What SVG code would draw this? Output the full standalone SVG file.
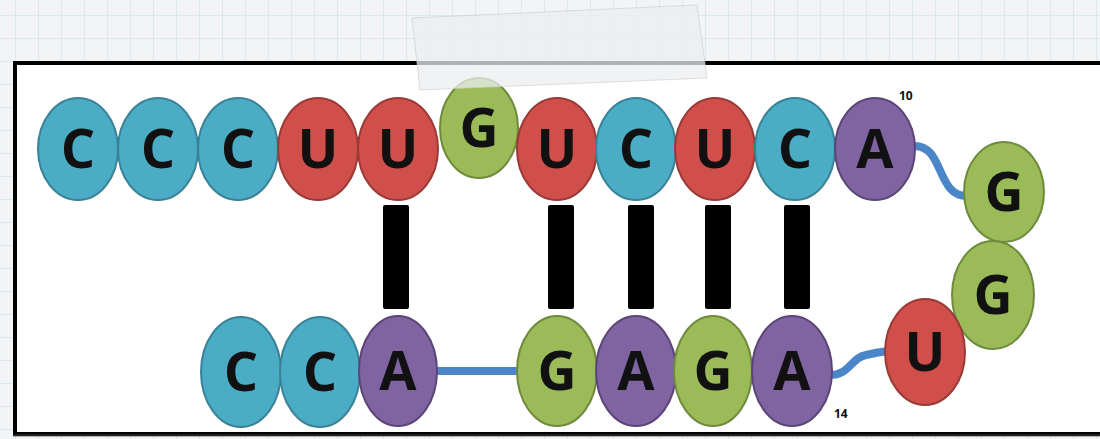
<svg xmlns="http://www.w3.org/2000/svg" width="1100" height="439" viewBox="0 0 1100 439">
<defs>
<pattern id="grid" x="15" y="15" width="23" height="23" patternUnits="userSpaceOnUse">
<path d="M0,0 H23 M0,0 V23" stroke="#d3e6ee" stroke-width="1.5" fill="none"/>
</pattern>
<style>
.b{fill:#4bacc6;stroke:#3a8296;stroke-width:2}
.r{fill:#d04f4a;stroke:#9a3a36;stroke-width:2}
.g{fill:#9bbb59;stroke:#6f8a3c;stroke-width:2}
.p{fill:#8064a2;stroke:#5b4578;stroke-width:2}
.t{font-family:"Open Sans","Liberation Sans",sans-serif;font-weight:700;font-size:54px;fill:#111;text-anchor:middle}
.n{font-family:"Open Sans","Liberation Sans",sans-serif;font-weight:700;font-size:12px;fill:#111}
.bar{fill:#000}
.lnk{fill:none;stroke:#4a86c8;stroke-width:8;stroke-linecap:round}
</style>
</defs>
<rect width="1100" height="439" fill="#f3f4f5"/>
<rect width="1100" height="439" fill="url(#grid)"/>
<rect x="15" y="63" width="1090" height="371" fill="#ffffff" stroke="#000" stroke-width="4"/>
<rect x="13" y="434" width="1090" height="3" fill="#555" opacity="0.4"/>

<g id="connectors">
<rect class="bar" x="383" y="205" width="26" height="104" rx="2"/>
<rect class="bar" x="548" y="205" width="26" height="104" rx="2"/>
<rect class="bar" x="628" y="205" width="26" height="104" rx="2"/>
<rect class="bar" x="705" y="205" width="26" height="104" rx="2"/>
<rect class="bar" x="784" y="205" width="26" height="104" rx="2"/>
<path class="lnk" d="M435,371 H520"/>
<path class="lnk" d="M912,146 C945,143 935,197 968,196"/>
<path class="lnk" d="M828,375 C850,376 850,358 866,355 C874,353 880,352 888,351"/>
</g>

<g id="n1"><ellipse class="b" cx="78" cy="149" rx="40" ry="51"/><text class="t" x="78" y="168">C</text></g>
<g id="n2"><ellipse class="b" cx="158" cy="149" rx="40" ry="51"/><text class="t" x="158" y="168">C</text></g>
<g id="n3"><ellipse class="b" cx="238" cy="149" rx="40" ry="51"/><text class="t" x="238" y="168">C</text></g>
<g id="n4"><ellipse class="r" cx="318" cy="149" rx="40" ry="51"/><text class="t" x="318" y="168">U</text></g>
<g id="n5"><ellipse class="r" cx="398" cy="149" rx="40" ry="51"/><text class="t" x="398" y="168">U</text></g>
<g id="n6"><ellipse class="g" cx="479" cy="128" rx="39" ry="50"/><text class="t" x="479" y="147">G</text></g>
<g id="n7"><ellipse class="r" cx="557" cy="149" rx="40" ry="51"/><text class="t" x="557" y="168">U</text></g>
<g id="n8"><ellipse class="b" cx="636" cy="149" rx="40" ry="51"/><text class="t" x="636" y="168">C</text></g>
<g id="n9"><ellipse class="r" cx="715" cy="149" rx="40" ry="51"/><text class="t" x="715" y="168">U</text></g>
<g id="n10"><ellipse class="b" cx="795" cy="149" rx="40" ry="51"/><text class="t" x="795" y="168">C</text></g>
<g id="n11"><ellipse class="p" cx="875" cy="149" rx="40" ry="51"/><text class="t" x="875" y="168">A</text><text class="n" x="899" y="100">10</text></g>
<g id="n12"><ellipse class="g" cx="1004" cy="192" rx="40" ry="50"/><text class="t" x="1004" y="211">G</text></g>
<g id="n13"><ellipse class="g" cx="993" cy="295" rx="41" ry="54"/><text class="t" x="993" y="314">G</text></g>
<g id="n14"><ellipse class="r" cx="925" cy="352" rx="40" ry="53"/><text class="t" x="925" y="371">U</text></g>

<g id="m1"><ellipse class="b" cx="241" cy="372" rx="40" ry="55"/><text class="t" x="241" y="391">C</text></g>
<g id="m2"><ellipse class="b" cx="320" cy="372" rx="40" ry="55"/><text class="t" x="320" y="391">C</text></g>
<g id="m3"><ellipse class="p" cx="398" cy="371" rx="39" ry="55"/><text class="t" x="398" y="390">A</text></g>
<g id="m4"><ellipse class="g" cx="557" cy="371" rx="40" ry="55"/><text class="t" x="557" y="390">G</text></g>
<g id="m5"><ellipse class="p" cx="636" cy="371" rx="40" ry="55"/><text class="t" x="636" y="390">A</text></g>
<g id="m6"><ellipse class="g" cx="713" cy="371" rx="39" ry="55"/><text class="t" x="713" y="390">G</text></g>
<g id="m7"><ellipse class="p" cx="792" cy="371" rx="40" ry="55"/><text class="t" x="792" y="390">A</text><text class="n" x="834" y="418">14</text></g>

<polygon points="412,18 697,5 707,78 420,90" fill="#eceeef" fill-opacity="0.75" stroke="#c8cacc" stroke-opacity="0.6" stroke-width="1"/>
</svg>
